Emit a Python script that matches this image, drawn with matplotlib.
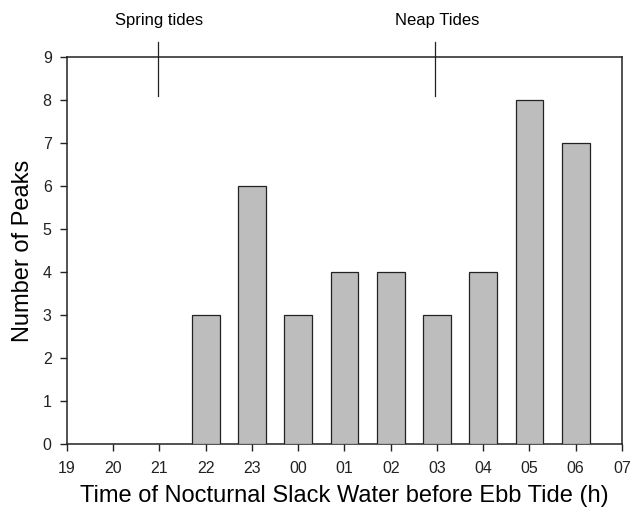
import matplotlib
matplotlib.use("Agg")
import matplotlib.pyplot as plt

plt.rcParams['font.family'] = ['Liberation Sans', 'DejaVu Sans']

tick_labels = ["19", "20", "21", "22", "23", "00", "01", "02", "03", "04", "05", "06", "07"]
bar_hours = ["22", "23", "00", "01", "02", "03", "04", "05", "06"]
peaks = [3, 6, 3, 4, 4, 3, 4, 8, 7]
markers = [("Spring tides", "21"), ("Neap Tides", "03")]

fig = plt.figure(figsize=(6.35, 5.14), dpi=100)
ax = fig.add_axes([0.1055, 0.1362, 0.874, 0.7528])

pos = {lab: i for i, lab in enumerate(tick_labels)}
xs = [pos[h] for h in bar_hours]
ax.bar(xs, peaks, width=0.6, color="#bdbdbd", edgecolor="#222222", linewidth=0.9, zorder=3)

ax.set_xlim(0, len(tick_labels) - 1)
ax.set_ylim(0, 9)
ax.set_xticks(range(len(tick_labels)))
ax.set_xticklabels(tick_labels)
ax.set_yticks(range(0, 10))
ax.tick_params(direction="out", length=5, width=1, labelsize=11.5, colors="#222222")
ax.tick_params(axis="x", pad=7)
ax.tick_params(axis="y", pad=6)
for s in ax.spines.values():
    s.set_linewidth(1.1)
    s.set_color("#222222")

ax.set_xlabel("Time of Nocturnal Slack Water before Ebb Tide (h)", fontsize=17, labelpad=7)
ax.set_ylabel("Number of Peaks", fontsize=17, labelpad=6)

for text, hour in markers:
    x = pos[hour]
    ax.plot([x - 0.04, x - 0.04], [8.1, 9.35], color="#222222", lw=0.9, clip_on=False, zorder=4)
    ax.text(x, 9.85, text, ha="center", va="center", fontsize=12)

fig.savefig("out.png", dpi=100)
